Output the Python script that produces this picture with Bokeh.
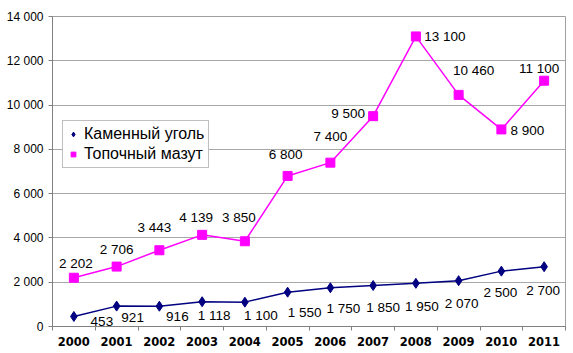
from bokeh.plotting import figure
from bokeh.models import ColumnDataSource, FixedTicker, Legend, LegendItem, Range1d
from bokeh.core.properties import value
from bokeh.embed import file_html
from bokeh.resources import INLINE

years = ["2000", "2001", "2002", "2003", "2004", "2005", "2006", "2007", "2008", "2009", "2010", "2011"]
coal = [453, 921, 916, 1118, 1100, 1550, 1750, 1850, 1950, 2070, 2500, 2700]
mazut = [2202, 2706, 3443, 4139, 3850, 6800, 7400, 9500, 13100, 10460, 8900, 11100]
series_names = ["Каменный уголь", "Топочный мазут"]
y_ticks = [0, 2000, 4000, 6000, 8000, 10000, 12000, 14000]

# label offsets in pixels (style)
coal_dx = [28, 16, 18, 12, 16, 17, 13, 10, 6, 3, -1, -1]
coal_dy = [5, 11, 10, 14, 13, 20, 21, 22, 23, 23, 21, 24]
maz_dx = [2, 0, -5, -6, -6, -2, 0, -25, 29, 15, 26, -5]
maz_dy = [-14, -17, -23, -17, -24, -21, -26, -3, 0, -24, 1, -12]


def fmt(v):
    return f"{v:,}".replace(",", " ")


xs = list(range(len(years)))

p = figure(width=573, height=353, output_backend="svg", toolbar_location=None,
           frame_width=513, frame_height=310,
           min_border_left=52, min_border_right=8, min_border_top=16, min_border_bottom=27,
           x_range=Range1d(-0.5, len(years) - 0.5), y_range=Range1d(0, 14000))
p.background_fill_color = "white"
p.border_fill_color = "white"
p.outline_line_color = "#a0a0a0"

# axes
p.xaxis.ticker = FixedTicker(ticks=xs, minor_ticks=[i - 0.5 for i in range(len(years) + 1)])
p.xaxis.major_label_overrides = {i: y for i, y in enumerate(years)}
p.xaxis.major_tick_out = 0
p.xaxis.major_tick_in = 0
p.xaxis.minor_tick_out = 4
p.xaxis.minor_tick_in = 0
p.xaxis.minor_tick_line_color = "#808080"
p.xaxis.axis_line_color = "#808080"
p.xaxis.major_label_text_font = "DejaVu Sans"
p.xaxis.major_label_text_font_style = "bold"
p.xaxis.major_label_text_font_size = "11.5px"
p.xaxis.major_label_text_color = "black"
p.xaxis.major_label_standoff = 6

p.yaxis.ticker = FixedTicker(ticks=y_ticks)
p.yaxis.major_label_overrides = {t: fmt(t) for t in y_ticks}
p.yaxis.major_tick_out = 4
p.yaxis.major_tick_in = 0
p.yaxis.minor_tick_out = 0
p.yaxis.minor_tick_in = 0
p.yaxis.major_tick_line_color = "#808080"
p.yaxis.axis_line_color = "#808080"
p.yaxis.major_label_text_font = "Liberation Sans"
p.yaxis.major_label_text_font_size = "12px"
p.yaxis.major_label_text_color = "black"
p.yaxis.major_label_standoff = 5

p.xgrid.grid_line_color = None
p.ygrid.grid_line_color = "#a8a8a8"
p.ygrid.grid_line_width = 1

coal_src = ColumnDataSource(dict(x=xs, y=coal, t=[fmt(v) for v in coal], dx=coal_dx, dy=coal_dy))
maz_src = ColumnDataSource(dict(x=xs, y=mazut, t=[fmt(v) for v in mazut], dx=maz_dx, dy=maz_dy))

p.line("x", "y", source=maz_src, line_color="#ff00ff", line_width=1.5)
r_maz = p.scatter("x", "y", source=maz_src, marker="square", size=9,
                  fill_color="#ff00ff", line_color="#ff00ff")
p.line("x", "y", source=coal_src, line_color="#000080", line_width=1.5)
r_coal = p.scatter("x", "y", source=coal_src, marker="diamond", size=10,
                   fill_color="#000080", line_color="#000080")

for src in (coal_src, maz_src):
    p.text("x", "y", text="t", source=src, x_offset="dx", y_offset="dy",
           text_align="center", text_baseline="middle",
           text_font=value("Liberation Sans"), text_font_size="13.5px", text_color="black")

legend = Legend(items=[LegendItem(label=series_names[0], renderers=[r_coal]),
                       LegendItem(label=series_names[1], renderers=[r_maz])],
                location=(10, 158))
legend.label_text_font = "Liberation Sans"
legend.label_text_font_size = "16px"
legend.label_text_color = "black"
legend.glyph_width = 12
legend.glyph_height = 14
legend.label_height = 18
legend.label_standoff = 5
legend.padding = 4
legend.spacing = 2
legend.margin = 0
legend.border_line_color = "#808080"
legend.border_line_width = 1
legend.background_fill_color = "white"
legend.background_fill_alpha = 1
p.add_layout(legend, "center")

open("out.html", "w").write(file_html(p, INLINE))
